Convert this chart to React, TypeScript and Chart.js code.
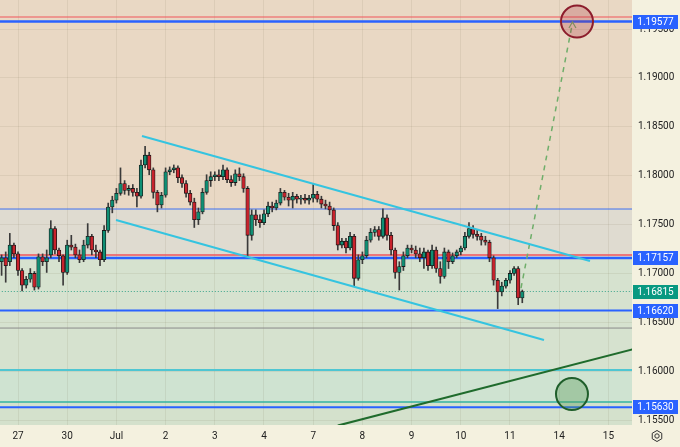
import React, { useEffect, useRef } from 'react';
import { Chart, registerables } from 'chart.js';

Chart.register(...registerables);

// ---- data ----
const dayLabels = ['27', '30', 'Jul', '2', '3', '4', '7', '8', '9', '10', '11', '14', '15'];
const X_MIN = -0.366;
const X_MAX = 12.48;
const Y_MIN = 1.15449;
const Y_MAX = 1.19798;

// 2-hour candles, first candle centred at day -1/3 (Jun 26, afternoon)
const FIRST_CANDLE_DAY = -1 / 3;
const CANDLE_STEP_DAYS = 1 / 12;

// [open, high, low, close]
const candles: [number, number, number, number][] = [
  [1.1712, 1.1719, 1.1698, 1.1716], [1.1716, 1.1722, 1.1691, 1.1708], [1.1712, 1.1741, 1.1708, 1.1729], [1.1729, 1.1731, 1.1716, 1.1720],
  [1.1720, 1.1722, 1.1698, 1.1703], [1.1703, 1.1705, 1.1682, 1.1688], [1.1688, 1.1697, 1.1685, 1.1694], [1.1694, 1.1705, 1.1691, 1.1700],
  [1.1700, 1.1702, 1.1683, 1.1686], [1.1686, 1.1720, 1.1684, 1.1717], [1.1717, 1.1720, 1.1708, 1.1712], [1.1712, 1.1724, 1.1701, 1.1716],
  [1.1719, 1.1754, 1.1716, 1.1746], [1.1746, 1.1748, 1.1720, 1.1724], [1.1724, 1.1726, 1.1712, 1.1718], [1.1718, 1.1719, 1.1688, 1.1701],
  [1.1701, 1.1734, 1.1699, 1.1729], [1.1729, 1.1739, 1.1724, 1.1727], [1.1727, 1.1730, 1.1716, 1.1719], [1.1719, 1.1724, 1.1711, 1.1714],
  [1.1714, 1.1734, 1.1712, 1.1729], [1.1729, 1.1751, 1.1726, 1.1738], [1.1738, 1.1740, 1.1719, 1.1724], [1.1724, 1.1729, 1.1716, 1.1722],
  [1.1722, 1.1724, 1.1708, 1.1714], [1.1714, 1.1749, 1.1712, 1.1744], [1.1744, 1.1772, 1.1742, 1.1768], [1.1768, 1.1779, 1.1762, 1.1775],
  [1.1775, 1.1787, 1.1772, 1.1782], [1.1782, 1.1808, 1.1780, 1.1792], [1.1792, 1.1795, 1.1781, 1.1785], [1.1785, 1.1790, 1.1780, 1.1787],
  [1.1787, 1.1791, 1.1779, 1.1783], [1.1783, 1.1787, 1.1768, 1.1779], [1.1779, 1.1816, 1.1777, 1.1811], [1.1811, 1.1830, 1.1808, 1.1821],
  [1.1821, 1.1824, 1.1801, 1.1806], [1.1806, 1.1808, 1.1777, 1.1783], [1.1783, 1.1785, 1.1763, 1.1770], [1.1770, 1.1783, 1.1767, 1.1780],
  [1.1780, 1.1808, 1.1778, 1.1804], [1.1804, 1.1809, 1.1801, 1.1806], [1.1806, 1.1811, 1.1803, 1.1808], [1.1808, 1.1810, 1.1793, 1.1798],
  [1.1798, 1.1801, 1.1788, 1.1792], [1.1792, 1.1795, 1.1778, 1.1782], [1.1782, 1.1785, 1.1770, 1.1773], [1.1773, 1.1777, 1.1747, 1.1755],
  [1.1755, 1.1767, 1.1750, 1.1763], [1.1763, 1.1787, 1.1761, 1.1783], [1.1783, 1.1801, 1.1781, 1.1795], [1.1795, 1.1804, 1.1789, 1.1799],
  [1.1799, 1.1804, 1.1795, 1.1801], [1.1801, 1.1806, 1.1795, 1.1799], [1.1799, 1.1811, 1.1796, 1.1806], [1.1806, 1.1808, 1.1793, 1.1796],
  [1.1796, 1.1800, 1.1789, 1.1793], [1.1793, 1.1806, 1.1790, 1.1802], [1.1802, 1.1808, 1.1795, 1.1799], [1.1799, 1.1802, 1.1783, 1.1787],
  [1.1787, 1.1789, 1.1717, 1.1739], [1.1739, 1.1765, 1.1734, 1.1760], [1.1760, 1.1765, 1.1749, 1.1755], [1.1755, 1.1760, 1.1747, 1.1752],
  [1.1752, 1.1765, 1.1750, 1.1761], [1.1761, 1.1773, 1.1758, 1.1769], [1.1769, 1.1773, 1.1763, 1.1767], [1.1767, 1.1775, 1.1765, 1.1772],
  [1.1772, 1.1787, 1.1770, 1.1783], [1.1783, 1.1785, 1.1775, 1.1778], [1.1778, 1.1782, 1.1769, 1.1775], [1.1775, 1.1783, 1.1767, 1.1779],
  [1.1779, 1.1781, 1.1772, 1.1776], [1.1776, 1.1780, 1.1771, 1.1777], [1.1777, 1.1781, 1.1772, 1.1775], [1.1775, 1.1780, 1.1771, 1.1777],
  [1.1777, 1.1791, 1.1773, 1.1781], [1.1781, 1.1784, 1.1773, 1.1776], [1.1776, 1.1779, 1.1767, 1.1771], [1.1771, 1.1775, 1.1766, 1.1769],
  [1.1769, 1.1773, 1.1760, 1.1765], [1.1765, 1.1767, 1.1744, 1.1749], [1.1749, 1.1752, 1.1724, 1.1729], [1.1729, 1.1736, 1.1726, 1.1733],
  [1.1733, 1.1736, 1.1721, 1.1726], [1.1726, 1.1742, 1.1724, 1.1738], [1.1738, 1.1740, 1.1687, 1.1695], [1.1695, 1.1719, 1.1693, 1.1714],
  [1.1714, 1.1722, 1.1710, 1.1718], [1.1718, 1.1738, 1.1716, 1.1734], [1.1734, 1.1746, 1.1732, 1.1742], [1.1742, 1.1748, 1.1738, 1.1745],
  [1.1745, 1.1748, 1.1734, 1.1738], [1.1738, 1.1766, 1.1736, 1.1757], [1.1757, 1.1760, 1.1734, 1.1739], [1.1739, 1.1742, 1.1719, 1.1724],
  [1.1724, 1.1726, 1.1695, 1.1701], [1.1701, 1.1712, 1.1683, 1.1707], [1.1707, 1.1722, 1.1703, 1.1718], [1.1718, 1.1729, 1.1716, 1.1726],
  [1.1726, 1.1729, 1.1721, 1.1724], [1.1724, 1.1728, 1.1716, 1.1720], [1.1720, 1.1726, 1.1712, 1.1716], [1.1716, 1.1726, 1.1705, 1.1722],
  [1.1722, 1.1724, 1.1703, 1.1708], [1.1708, 1.1729, 1.1705, 1.1724], [1.1724, 1.1727, 1.1701, 1.1705], [1.1705, 1.1712, 1.1690, 1.1697],
  [1.1697, 1.1726, 1.1695, 1.1722], [1.1722, 1.1724, 1.1705, 1.1712], [1.1712, 1.1721, 1.1710, 1.1718], [1.1718, 1.1724, 1.1716, 1.1722],
  [1.1722, 1.1728, 1.1719, 1.1726], [1.1726, 1.1742, 1.1724, 1.1738], [1.1738, 1.1752, 1.1736, 1.1746], [1.1746, 1.1749, 1.1736, 1.1740],
  [1.1740, 1.1745, 1.1734, 1.1738], [1.1738, 1.1741, 1.1729, 1.1734], [1.1734, 1.1738, 1.1729, 1.1732], [1.1732, 1.1734, 1.1712, 1.1716],
  [1.1716, 1.1718, 1.1688, 1.1693], [1.1693, 1.1695, 1.1664, 1.1681], [1.1681, 1.1691, 1.1677, 1.1687], [1.1687, 1.1695, 1.1685, 1.1693],
  [1.1693, 1.1703, 1.1690, 1.1700], [1.1700, 1.1707, 1.1698, 1.1705], [1.1705, 1.1707, 1.1668, 1.1675], [1.1675, 1.1683, 1.1670, 1.16815],
];

// horizontal price levels
const levelPrices = [1.19624, 1.19577, 1.17659, 1.17188, 1.17157, 1.16815, 1.16620, 1.16441, 1.16011, 1.15684, 1.15630];
const levelColors = ['#f2545b', '#2962ff', '#3f6ff0', '#f2545b', '#2962ff', '#3aa58c', '#2962ff', '#8a8a8a', '#4fc6d2', '#33b3a0', '#2962ff'];
const levelWidths = [1.2, 2.5, 1, 1.5, 2.5, 1, 2, 1, 2, 1.5, 2];
const levelDashed = [false, false, false, false, false, true, false, false, false, false, false];

// background zones: [upper price, lower price]
const zoneTops = [Y_MAX, 1.17659, 1.17157, 1.16011, 1.15684];
const zoneBottoms = [1.17659, 1.17157, 1.16011, 1.15684, Y_MIN];
const zoneColors = ['#e9d8c4', '#dfdbd0', '#d6e2cf', '#cfe3d1', '#d4e1cc'];

// price tags on the axis
const tagPrices = [1.19577, 1.17157, 1.16815, 1.16620, 1.15630];
const tagColors = ['#2962ff', '#2962ff', '#089981', '#2962ff', '#2962ff'];

// drawings
const channelUpper = [{ x: 2.52, y: 1.18406 }, { x: 11.626, y: 1.17127 }];
const channelLower = [{ x: 1.992, y: 1.17547 }, { x: 10.691, y: 1.16318 }];
const trendLine = [{ x: 6.5, y: 1.15443 }, { x: 12.6, y: 1.16237 }];
const projection = [{ x: 10.224, y: 1.1685 }, { x: 11.27, y: 1.19563 }];
const arrowHead = [{ x: 11.199, y: 1.19511 }, { x: 11.27, y: 1.19573 }, { x: 11.341, y: 1.19511 }];
const targetCircle = [{ x: 11.362, y: 1.19577 }];
const supportCircle = [{ x: 11.26, y: 1.15766 }];

const UP = '#0f8f74';
const DOWN = '#c8232c';

export default function App() {
  const ref = useRef<HTMLCanvasElement | null>(null);

  useEffect(() => {
    const canvas = ref.current;
    if (!canvas) return;

    const xs = candles.map((_, i) => FIRST_CANDLE_DAY + i * CANDLE_STEP_DAYS);

    const backgroundPlugin = {
      id: 'bg',
      beforeDraw(chart: any) {
        const { ctx, chartArea, scales } = chart;
        ctx.save();
        ctx.fillStyle = '#f4f1df';
        ctx.fillRect(0, 0, chart.width, chart.height);
        for (let i = 0; i < zoneColors.length; i++) {
          const y1 = scales.y.getPixelForValue(zoneTops[i]);
          const y2 = scales.y.getPixelForValue(zoneBottoms[i]);
          ctx.fillStyle = zoneColors[i];
          ctx.fillRect(chartArea.left, Math.max(chartArea.top, y1), chartArea.right - chartArea.left, Math.min(chartArea.bottom, y2) - Math.max(chartArea.top, y1));
        }
        ctx.restore();
      },
      afterDraw(chart: any) {
        const { ctx, scales, chartArea } = chart;
        ctx.save();
        ctx.font = '10px Roboto, "Liberation Sans", sans-serif';
        ctx.textAlign = 'center';
        ctx.textBaseline = 'middle';
        for (let i = 0; i < tagPrices.length; i++) {
          const y = scales.y.getPixelForValue(tagPrices[i]);
          ctx.fillStyle = tagColors[i];
          ctx.fillRect(chartArea.right + 1, Math.round(y) - 7, 45, 14);
          ctx.fillStyle = '#ffffff';
          ctx.fillText(tagPrices[i].toFixed(5), chartArea.right + 23.5, Math.round(y) + 0.5);
        }
        // settings icon
        const cx = 657, cy = chart.height - 11;
        ctx.strokeStyle = '#333';
        ctx.lineWidth = 1;
        ctx.beginPath();
        for (let k = 0; k < 6; k++) {
          const a = Math.PI / 6 + (k * Math.PI) / 3;
          const px = cx + 5.5 * Math.cos(a);
          const py = cy + 5.5 * Math.sin(a);
          if (k === 0) ctx.moveTo(px, py); else ctx.lineTo(px, py);
        }
        ctx.closePath();
        ctx.stroke();
        ctx.beginPath();
        ctx.arc(cx, cy, 2.2, 0, Math.PI * 2);
        ctx.stroke();
        ctx.restore();
      },
    };

    const levelDatasets = levelPrices.map((p, i) => ({
      type: 'line' as const,
      data: [{ x: X_MIN - 1, y: p }, { x: X_MAX + 1, y: p }],
      borderColor: levelColors[i],
      borderWidth: levelWidths[i],
      borderDash: levelDashed[i] ? [1, 2] : [],
      pointRadius: 0,
      fill: false,
      order: 20,
    }));

    const lineDs = (data: any[], color: string, width: number, order: number, dash: number[] = []) => ({
      type: 'line' as const,
      data,
      borderColor: color,
      borderWidth: width,
      borderDash: dash,
      pointRadius: 0,
      fill: false,
      tension: 0,
      order,
    });

    const chart = new Chart(canvas, {
      type: 'bar',
      data: {
        datasets: [
          ...levelDatasets,
          {
            type: 'bar',
            data: candles.map((c, i) => ({ x: xs[i], y: [c[2], c[1]] })),
            backgroundColor: '#3a3a3a',
            barThickness: 1,
            grouped: false,
            order: 6,
          } as any,
          {
            type: 'bar',
            data: candles.map((c, i) => ({ x: xs[i], y: [c[0], c[3] === c[0] ? c[0] + 0.00002 : c[3]] })),
            backgroundColor: candles.map((c) => (c[3] >= c[0] ? UP : DOWN)),
            borderColor: '#181818',
            borderWidth: 0.8,
            borderSkipped: false,
            barThickness: 3.6,
            grouped: false,
            order: 5,
          } as any,
          lineDs(channelUpper, '#35c4e0', 2, 3),
          lineDs(channelLower, '#35c4e0', 2, 3),
          lineDs(trendLine, '#1f6b2c', 2, 3),
          lineDs(projection, '#6fae6a', 1.5, 3, [5, 5]),
          lineDs(arrowHead, '#6fae6a', 1.2, 3),
          {
            type: 'line',
            data: targetCircle,
            showLine: false,
            pointRadius: 16,
            pointBorderWidth: 2,
            pointBackgroundColor: 'rgba(170, 40, 55, 0.25)',
            pointBorderColor: '#8c1d2c',
            order: 1,
          } as any,
          {
            type: 'line',
            data: supportCircle,
            showLine: false,
            pointRadius: 16,
            pointBorderWidth: 2,
            pointBackgroundColor: 'rgba(80, 150, 80, 0.35)',
            pointBorderColor: '#1f5e2a',
            order: 1,
          } as any,
        ],
      },
      options: {
        animation: false,
        responsive: false,
        events: [],
        layout: { padding: 0, autoPadding: false },
        plugins: { legend: { display: false }, tooltip: { enabled: false } },
        scales: {
          x: {
            type: 'linear',
            min: X_MIN,
            max: X_MAX,
            offset: false,
            border: { display: false },
            grid: { color: 'rgba(110, 95, 70, 0.10)', drawTicks: false, offset: false },
            afterFit: (s: any) => { s.height = 22; s.paddingLeft = 0; s.paddingRight = 0; },
            ticks: {
              stepSize: 1,
              includeBounds: false,
              autoSkip: false,
              maxRotation: 0,
              padding: 5,
              color: '#222',
              font: { family: 'Roboto, "Liberation Sans", sans-serif', size: 10 },
              callback: (v: any) => {
                const n = Math.round(Number(v));
                return Math.abs(Number(v) - n) < 1e-6 && n >= 0 && n < dayLabels.length ? dayLabels[n] : '';
              },
            },
          },
          y: {
            type: 'linear',
            position: 'right',
            min: Y_MIN,
            max: Y_MAX,
            border: { display: false },
            grid: { color: 'rgba(110, 95, 70, 0.10)', drawTicks: false },
            afterFit: (s: any) => { s.width = 48; s.paddingTop = 0; s.paddingBottom = 0; },
            ticks: {
              stepSize: 0.005,
              includeBounds: false,
              padding: 6,
              color: '#222',
              font: { family: 'Roboto, "Liberation Sans", sans-serif', size: 10 },
              callback: (v: any) => Number(v).toFixed(5),
            },
          },
        },
      } as any,
      plugins: [backgroundPlugin],
    });

    return () => chart.destroy();
  }, []);

  return (
    <div style={{ position: 'fixed', left: 0, top: 0, width: 680, height: 447 }}>
      <canvas ref={ref} width={680} height={447} style={{ width: 680, height: 447, display: 'block' }} />
    </div>
  );
}
